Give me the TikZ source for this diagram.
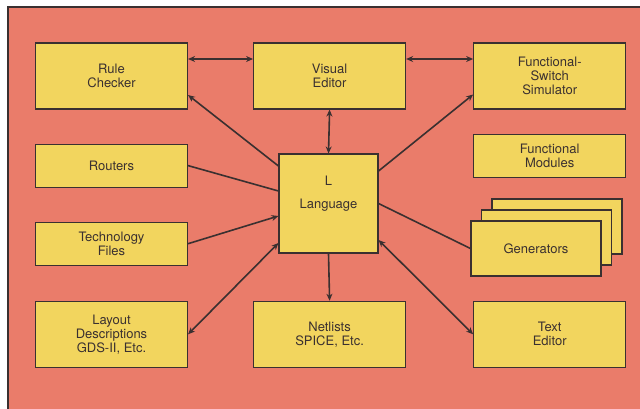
\documentclass[tikz,border=0pt]{standalone}
\usepackage{fontspec}
\setmainfont{TeX Gyre Heros}
\usepackage{tikz}
\usetikzlibrary{arrows.meta, positioning, calc}
\definecolor{panelsalmon}{RGB}{234, 124, 106}
\definecolor{boxyellow}{RGB}{242, 213, 94}
\definecolor{inkgray}{RGB}{58, 48, 48}

\begin{document}
\begin{tikzpicture}[
    x=1pt, y=-1pt,
    node distance=34pt,
    block/.style={rectangle, draw=inkgray, fill=boxyellow, line width=1.1pt, minimum width=152pt, minimum height=66pt, inner sep=2pt, align=center, font=\fontsize{13}{14}\selectfont, text=inkgray},
    flat/.style={block, minimum height=43pt},
    link/.style={line width=1.6pt, color=inkgray},
    arrow/.style={link, -{Stealth[length=7pt, width=6pt]}},
    biarrow/.style={link, {Stealth[length=7pt, width=6pt]}-{Stealth[length=7pt, width=6pt]}}
]
    \useasboundingbox (0,0) rectangle (640,409);
    \clip (0,0) rectangle (640,409);
    \fill[white] (0,0) rectangle (640,409);
    \draw[fill=panelsalmon, draw=inkgray, line width=1.2pt] (8,7) rectangle (660,430);

    % top row
    \node[block] (rule) at (111.5,76) {Rule\\Checker};
    \node[block, right=65pt of rule] (visual) {Visual\\Editor};
    \node[block, right=67pt of visual] (funcsw) {Functional-\\Switch\\Simulator};

    % left column
    \node[flat, below=34pt of rule] (routers) {Routers};
    \node[flat, below=34pt of routers] (tech) {Technology\\Files};
    \node[block, below=35pt of tech] (layout) {Layout\\Descriptions\\GDS-II, Etc.};

    % bottom row
    \node[block, right=65pt of layout] (netlists) {Netlists\\SPICE, Etc.};
    \node[block, right=67pt of netlists] (texted) {Text\\Editor};

    % right column
    \node[flat, below=24pt of funcsw] (funcmod) {Functional\\Modules};
    \node[block, minimum width=130pt, minimum height=55pt] (gen3) at (557,226.5) {};
    \node[block, minimum width=130pt, minimum height=55pt] (gen2) at (546.5,237.5) {};
    \node[block, minimum width=130pt, minimum height=55pt] (gen) at (536,248.5) {Generators};

    % center
    \node[block, minimum width=99pt, minimum height=99pt] (lang) at (328.5,203.5) {};
    \node[font=\fontsize{13}{14}\selectfont, text=inkgray, align=center] (langtext) at ([yshift=10pt]lang.center) {L\\[9pt]Language};

    \draw[biarrow] ([yshift=17pt]rule.east) -- ([yshift=17pt]visual.west);
    \draw[biarrow] ([yshift=17pt]visual.east) -- ([yshift=17pt]funcsw.west);
    \draw[biarrow] (visual.south) -- (lang.north);
    \draw[arrow] ([yshift=37.5pt]lang.west) -- ([yshift=-19pt]rule.east);
    \draw[link] (routers.east) -- ([yshift=12.5pt]lang.west);
    \draw[arrow] (tech.east) -- ([yshift=-12.5pt]lang.west);
    \draw[biarrow] ([yshift=-39.5pt]lang.west) -- (layout.east);
    \draw[arrow] (lang.south) -- (netlists.north);
    \draw[biarrow] ([yshift=-36.5pt]lang.east) -- (texted.west);
    \draw[link] (lang.east) -- (gen.west);
    \draw[arrow] ([yshift=32.5pt]lang.east) -- ([yshift=-18.5pt]funcsw.west);
\end{tikzpicture}
\end{document}
